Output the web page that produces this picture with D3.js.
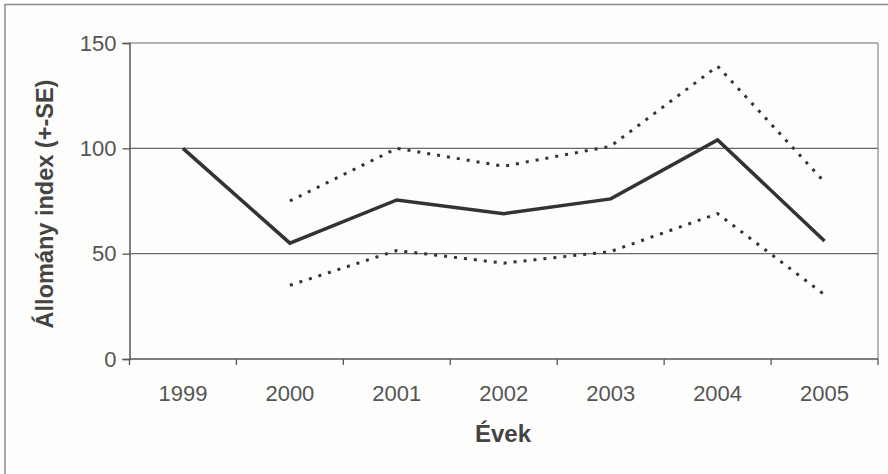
<!DOCTYPE html>
<html>
<head>
<meta charset="utf-8">
<script src="https://d3js.org/d3.v7.min.js"></script>
<style>
body { margin: 0; background: #fdfdfc; }
svg { display: block; font-family: "Liberation Sans", Arial, sans-serif; }
</style>
</head>
<body>
<svg id="chart" width="888" height="474"></svg>
<script>
// data
var years = ["1999", "2000", "2001", "2002", "2003", "2004", "2005"];
var index = [100, 55, 75.5, 69, 76, 104, 56];
var upper = [null, 75, 100, 91.5, 101, 139, 84];
var lower = [null, 35, 51.5, 45.5, 51, 69, 30.5];
var yTicks = [0, 50, 100, 150];

var svg = d3.select("#chart");

// outer frame (goes past the right and bottom edge like the scan)
svg.append("path")
  .attr("d", "M5,480 L5,4.5 L895,4.5")
  .attr("fill", "none")
  .attr("stroke", "#8a8a8a")
  .attr("stroke-width", 1.5);

var x = d3.scaleBand().domain(years).range([129.5, 878]).padding(0);
var y = d3.scaleLinear().domain([0, 150]).range([359, 43]);
var cx = function(d) { return x(d) + x.bandwidth() / 2; };

// gridlines
svg.append("g")
  .selectAll("line")
  .data(yTicks.filter(function(d) { return d > 0; }))
  .enter().append("line")
  .attr("x1", 129.5).attr("x2", 878)
  .attr("y1", function(d) { return y(d); })
  .attr("y2", function(d) { return y(d); })
  .attr("stroke", "#6a6a6a")
  .attr("stroke-width", 1.2);

// plot area right border
svg.append("line")
  .attr("x1", 878).attr("x2", 878)
  .attr("y1", y(150)).attr("y2", y(0))
  .attr("stroke", "#8a8a8a").attr("stroke-width", 1.2);

// y axis
var yAxis = svg.append("g")
  .attr("transform", "translate(129.5,0)")
  .call(d3.axisLeft(y).tickValues(yTicks).tickSize(7).tickPadding(6));
yAxis.select(".domain").attr("stroke", "#555").attr("stroke-width", 1.5);
yAxis.selectAll(".tick line").attr("stroke", "#555").attr("stroke-width", 1.3);
yAxis.selectAll(".tick text")
  .attr("font-size", "22px")
  .attr("fill", "#555")
  .attr("font-family", "Liberation Sans, Arial, sans-serif");

// x axis, ticks between categories like Excel
var xg = svg.append("g");
xg.append("line")
  .attr("x1", 129.5).attr("x2", 878)
  .attr("y1", y(0)).attr("y2", y(0))
  .attr("stroke", "#555").attr("stroke-width", 1.5);
xg.selectAll(".tk")
  .data(years.concat(["end"]))
  .enter().append("line")
  .attr("class", "tk")
  .attr("x1", function(d, i) { return i < years.length ? x(d) : x.range()[1]; })
  .attr("x2", function(d, i) { return i < years.length ? x(d) : x.range()[1]; })
  .attr("y1", y(0)).attr("y2", y(0) + 6)
  .attr("stroke", "#555").attr("stroke-width", 1.3);
xg.selectAll("text")
  .data(years)
  .enter().append("text")
  .attr("x", cx)
  .attr("y", 401)
  .attr("text-anchor", "middle")
  .attr("font-size", "22px")
  .attr("fill", "#555")
  .text(function(d) { return d; });

// axis titles
svg.append("text")
  .attr("transform", "translate(53,204) rotate(-90)")
  .attr("text-anchor", "middle")
  .attr("font-size", "23.5px")
  .attr("font-weight", "bold")
  .attr("fill", "#444")
  .text("Állomány index (+-SE)");

svg.append("text")
  .attr("x", 503)
  .attr("y", 442)
  .attr("text-anchor", "middle")
  .attr("font-size", "24px")
  .attr("font-weight", "bold")
  .attr("fill", "#444")
  .text("Évek");

// lines
function series(vals) {
  return years.map(function(d, i) { return { year: d, v: vals[i] }; });
}
var line = d3.line()
  .defined(function(d) { return d.v != null; })
  .x(function(d) { return cx(d.year); })
  .y(function(d) { return y(d.v); });

[upper, lower].forEach(function(vals) {
  svg.append("path")
    .datum(series(vals))
    .attr("d", line)
    .attr("fill", "none")
    .attr("stroke", "#333")
    .attr("stroke-width", 3)
    .attr("stroke-dasharray", "3,7");
});

svg.append("path")
  .datum(series(index))
  .attr("d", line)
  .attr("fill", "none")
  .attr("stroke", "#333")
  .attr("stroke-width", 3.5)
  .attr("stroke-linejoin", "miter");
</script>
</body>
</html>
